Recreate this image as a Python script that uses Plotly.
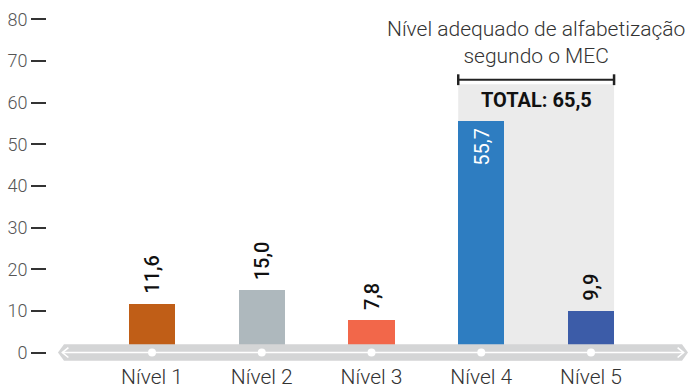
import plotly.graph_objects as go

# Data
niveis = ["Nível 1", "Nível 2", "Nível 3", "Nível 4", "Nível 5"]
percentuais = [11.6, 15.0, 7.8, 55.7, 9.9]
cores = ["#C05E17", "#AEB8BD", "#F2674A", "#2E7DC1", "#3C5CA8"]
total_adequado = 65.5          # share at the adequate level (Níveis 4 and 5)
niveis_adequados = [3, 4]      # indices of the adequate levels
y_ticks = [0, 10, 20, 30, 40, 50, 60, 70, 80]

FONT = "Roboto"
BAR_W = 0.42
x = list(range(len(niveis)))


def br(v):
    return f"{v:.1f}".replace(".", ",")


fig = go.Figure()

# Bars
fig.add_trace(go.Bar(
    x=x, y=percentuais, width=BAR_W,
    marker=dict(color=cores, line=dict(width=0)),
    hoverinfo="skip", showlegend=False,
))

# Baseline band drawn as a double-headed arrow
x_lo, x_hi = -0.857, 4.884
tip = 0.055
half = 2.0
fig.add_trace(go.Scatter(
    x=[x_lo, x_lo + tip, x_hi - tip, x_hi, x_hi - tip, x_lo + tip, x_lo],
    y=[0, half, half, 0, -half, -half, 0],
    fill="toself", fillcolor="#D4D5D6", mode="lines",
    line=dict(width=0, color="#D4D5D6"),
    hoverinfo="skip", showlegend=False,
))
a_in = 0.04
fig.add_trace(go.Scatter(
    x=[x_lo + a_in + 0.055, x_lo + a_in, x_lo + a_in + 0.055, None,
       x_lo + a_in, x_hi - a_in, None,
       x_hi - a_in - 0.055, x_hi - a_in, x_hi - a_in - 0.055],
    y=[1.2, 0, -1.2, None, 0, 0, None, 1.2, 0, -1.2],
    mode="lines", line=dict(color="white", width=1.6),
    hoverinfo="skip", showlegend=False,
))
fig.add_trace(go.Scatter(
    x=x, y=[0] * len(x), mode="markers",
    marker=dict(color="white", size=8, line=dict(width=0)),
    hoverinfo="skip", showlegend=False,
))

# Highlight of the adequate levels
x_a0 = niveis_adequados[0] - BAR_W / 2
x_a1 = niveis_adequados[-1] + BAR_W / 2
fig.add_shape(type="rect", xref="x", yref="y", layer="below",
              x0=x_a0, x1=x_a1, y0=-2, y1=total_adequado - 1.1,
              fillcolor="#EBEBEB", line=dict(width=0))
fig.add_shape(type="line", xref="x", yref="y",
              x0=x_a0, x1=x_a1, y0=total_adequado, y1=total_adequado,
              line=dict(color="#222222", width=2))
for xe in (x_a0, x_a1):
    fig.add_shape(type="line", xref="x", yref="y",
                  x0=xe, x1=xe, y0=total_adequado - 1.3, y1=total_adequado + 1.3,
                  line=dict(color="#222222", width=2.5))

x_mid = (niveis_adequados[0] + niveis_adequados[-1]) / 2
fig.add_annotation(x=x_mid, y=total_adequado, xref="x", yref="y",
                   text="Nível adequado de alfabetização<br>segundo o MEC",
                   showarrow=False, yanchor="bottom", yshift=10,
                   font=dict(family=FONT, size=21, weight=300, color="#333333"))
fig.add_annotation(x=x_mid, y=total_adequado, xref="x", yref="y",
                   text=f"<b>TOTAL: {br(total_adequado)}</b>",
                   showarrow=False, yanchor="top", yshift=-6,
                   font=dict(family=FONT, size=20, color="#111111"))

# Value labels (rotated)
for xi, v in zip(x, percentuais):
    inside = v > 30
    fig.add_annotation(
        x=xi, y=v, xref="x", yref="y", text=br(v), textangle=-90,
        showarrow=False,
        yanchor="top" if inside else "bottom",
        yshift=-5 if inside else 8,
        font=dict(family=FONT, size=20, weight=400 if inside else 500,
                  color="white" if inside else "#111111"),
    )

fig.update_layout(
    template="none",
    width=697, height=389,
    margin=dict(l=47, r=7, t=10.65, b=23.5, autoexpand=False),
    paper_bgcolor="white", plot_bgcolor="white",
    showlegend=False,
    bargap=0,
    xaxis=dict(
        range=[-0.957, 4.902], tickmode="array", tickvals=x, ticktext=niveis,
        showgrid=False, zeroline=False, showline=False, ticks="",
        automargin=False, ticklabelstandoff=-3,
        tickfont=dict(family=FONT, size=21, weight=300, color="#333333"),
        fixedrange=True,
    ),
    yaxis=dict(
        range=[-3, 82], tickmode="array", tickvals=y_ticks,
        showgrid=False, zeroline=False, showline=False,
        ticks="outside", ticklen=15, tickwidth=2, tickcolor="#333333",
        automargin=False,
        tickfont=dict(family=FONT, size=18, weight=300, color="#555555"),
        fixedrange=True,
    ),
)

fig.write_html("out.html")
